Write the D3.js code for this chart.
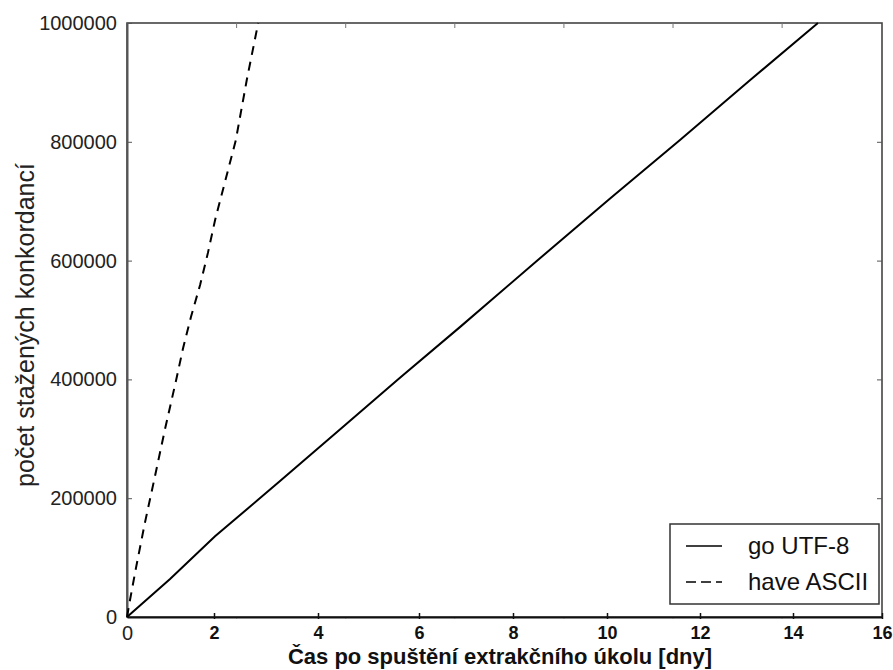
<!DOCTYPE html>
<html>
<head>
<meta charset="utf-8">
<script src="https://cdn.jsdelivr.net/npm/d3@7"></script>
<style>
  body { margin: 0; background: #fff; }
  svg { font-family: "Liberation Sans", Arial, sans-serif; }
</style>
</head>
<body>
<div class="visHolder"></div>
<script>
// data
const xTicks = [0, 2, 4, 6, 8, 10, 12, 14, 16];
const yTicks = [0, 200000, 400000, 600000, 800000, 1000000];

const utfDays = [0, 0.99, 2.02, 2.83, 3.27, 4.44, 5.60, 6.87, 8.53, 10.06, 11.57, 13.08, 14.56];
const utfCount = [0, 64000, 136000, 196000, 229000, 316000, 401000, 488000, 601000, 704000, 803000, 904000, 1000000];

const asciiDays = [0, 0.07, 0.21, 0.41, 0.64, 0.87, 1.13, 1.29, 1.47, 1.68, 1.86, 2.02, 2.42, 2.63, 2.85];
const asciiCount = [0, 29000, 84000, 158000, 236000, 315000, 399000, 453000, 505000, 559000, 613000, 668000, 803000, 904000, 1000000];

const seriesNames = ['go UTF-8', 'have ASCII'];

const width = 893;
const height = 670;
const plotLeft = 127, plotRight = 882, plotTop = 23, plotBottom = 617;

const svg = d3.select('.visHolder')
  .append('svg')
  .attr('width', width)
  .attr('height', height);

// the bottom axis of the picture is not evenly spaced, so the scale is piecewise
const xScale = d3.scaleLinear()
  .domain(xTicks)
  .range([127, 214, 318, 419, 513, 607, 700, 793, 882]);

// the faint top ticks belong to an evenly spaced scale
const xTop = d3.scaleLinear().domain([0, 13.84]).range([plotLeft, plotRight]);

const yScale = d3.scaleLinear()
  .domain([0, 1000000])
  .range([plotBottom, plotTop]);

// frame
svg.append('rect')
  .attr('x', plotLeft).attr('y', plotTop)
  .attr('width', plotRight - plotLeft).attr('height', plotBottom - plotTop)
  .attr('fill', 'none')
  .attr('stroke', '#444')
  .attr('stroke-width', 1.6);

// left axis
const yAxis = svg.append('g')
  .attr('transform', `translate(${plotLeft},0)`)
  .call(d3.axisLeft(yScale).tickValues(yTicks).tickFormat(d3.format('d')).tickSizeInner(-5).tickSizeOuter(0).tickPadding(10));
yAxis.select('.domain').attr('stroke', '#555').attr('stroke-width', 2);
yAxis.selectAll('.tick line').attr('stroke', '#555');
yAxis.selectAll('.tick text')
  .attr('font-size', 20)
  .attr('fill', '#222')
  .attr('font-family', '"Liberation Sans", Arial, sans-serif');

// right ticks
svg.append('g')
  .attr('transform', `translate(${plotRight},0)`)
  .call(d3.axisRight(yScale).tickValues(yTicks.slice(1, -1)).tickSizeInner(-5).tickSizeOuter(0).tickFormat(''))
  .call(g => g.select('.domain').remove())
  .selectAll('.tick line').attr('stroke', '#555');

// top ticks
svg.append('g')
  .attr('transform', `translate(0,${plotTop})`)
  .call(d3.axisTop(xTop).tickValues([2, 4, 6, 8, 10, 12]).tickSizeInner(-5).tickSizeOuter(0).tickFormat(''))
  .call(g => g.select('.domain').remove())
  .selectAll('.tick line').attr('stroke', '#777');

// faint original ticks at the bottom
svg.append('g')
  .attr('transform', `translate(0,${plotBottom})`)
  .call(d3.axisTop(xTop).tickValues([2, 4, 6, 8, 10, 12]).tickSizeInner(-2).tickSizeOuter(0).tickFormat(''))
  .call(g => g.select('.domain').remove())
  .selectAll('.tick line').attr('stroke', '#ccc');

// bottom axis
const xAxis = svg.append('g')
  .attr('transform', `translate(0,${plotBottom})`)
  .call(d3.axisBottom(xScale).tickValues(xTicks).tickSizeInner(0).tickSizeOuter(0).tickPadding(9));
xAxis.select('.domain').attr('stroke', '#111').attr('stroke-width', 2);
xAxis.selectAll('.tick line')
  .attr('y1', -4).attr('y2', 2)
  .attr('stroke', '#111').attr('stroke-width', 1.5);
xAxis.selectAll('.tick text')
  .attr('font-size', 18)
  .attr('font-weight', 'bold')
  .attr('fill', '#111')
  .attr('font-family', '"Liberation Sans", Arial, sans-serif');
xAxis.selectAll('.tick text').filter(d => d === 0)
  .attr('font-weight', 'normal')
  .attr('font-size', 20)
  .attr('fill', '#222');
xAxis.selectAll('.tick').filter(d => d === 0).select('line').remove();

// lines
const line = d3.line()
  .x(d => xScale(d[0]))
  .y(d => yScale(d[1]));

svg.append('path')
  .datum(d3.zip(utfDays, utfCount))
  .attr('d', line)
  .attr('fill', 'none')
  .attr('stroke', '#000')
  .attr('stroke-width', 2);

svg.append('path')
  .datum(d3.zip(asciiDays, asciiCount))
  .attr('d', line)
  .attr('fill', 'none')
  .attr('stroke', '#000')
  .attr('stroke-width', 2)
  .attr('stroke-dasharray', '9,7');

// axis titles
svg.append('text')
  .attr('x', 500)
  .attr('y', 664)
  .attr('text-anchor', 'middle')
  .attr('font-size', 22)
  .attr('font-weight', 'bold')
  .attr('fill', '#111')
  .text('Čas po spuštění extrakčního úkolu [dny]');

svg.append('text')
  .attr('transform', 'translate(34,325) rotate(-90)')
  .attr('text-anchor', 'middle')
  .attr('font-size', 25)
  .attr('fill', '#222')
  .text('počet stažených konkordancí');

// legend
const legend = svg.append('g').attr('transform', 'translate(670,524)');
legend.append('rect')
  .attr('width', 209).attr('height', 80)
  .attr('fill', '#fff')
  .attr('stroke', '#333')
  .attr('stroke-width', 1.5);

seriesNames.forEach((name, i) => {
  const y = 22 + i * 36;
  legend.append('line')
    .attr('x1', 16).attr('x2', 52)
    .attr('y1', y).attr('y2', y)
    .attr('stroke', '#000')
    .attr('stroke-width', 1.5)
    .attr('stroke-dasharray', i === 1 ? '10,5' : null);
  legend.append('text')
    .attr('x', 78)
    .attr('y', y + 8)
    .attr('font-size', 24)
    .attr('fill', '#111')
    .text(name);
});
</script>
</body>
</html>
